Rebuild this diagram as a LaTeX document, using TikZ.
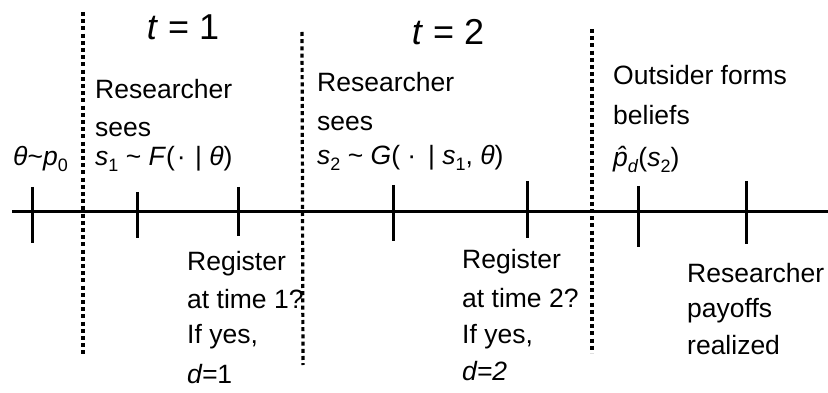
\documentclass[tikz,border=0pt]{standalone}
\usepackage{fontspec}
\setmainfont{Liberation Sans}
\newcommand{\sbs}[1]{\raisebox{-0.2em}{\fontsize{18}{18}\selectfont #1}}
\newcommand{\tld}{\textasciitilde}
\newcommand{\phat}{\makebox[0pt][l]{\hspace{0.14em}\raisebox{0.05em}{\textit{ˆ}}}\textit{p}}
\begin{document}
\begin{tikzpicture}[x=1pt,y=-1pt,
  lbl/.style={anchor=base west,inner sep=0pt,font=\fontsize{26.5}{30}\selectfont},
  big/.style={anchor=base,inner sep=0pt,font=\fontsize{36}{40}\selectfont},
  axis/.style={line width=3pt},
  tick/.style={line width=3pt},
  period/.style={line width=3.2pt,dash pattern=on 4pt off 3.2pt}]
\useasboundingbox (0,0) rectangle (828,393);
% axis
\coordinate (L) at (12,212);
\coordinate (R) at (828,212);
\draw[axis] (L) -- (R);
% ticks
\coordinate (t1a) at (32,187);  \coordinate (t1b) at (32,243);
\coordinate (t2a) at (137,192); \coordinate (t2b) at (137,238);
\coordinate (t3a) at (238,187); \coordinate (t3b) at (238,236);
\coordinate (t4a) at (393,185); \coordinate (t4b) at (393,241);
\coordinate (t5a) at (527,181); \coordinate (t5b) at (527,238);
\coordinate (t6a) at (638,186); \coordinate (t6b) at (638,247);
\coordinate (t7a) at (746,181); \coordinate (t7b) at (746,244);
\foreach \i in {1,...,7} \draw[tick] (t\i a) -- (t\i b);
% period separators
\coordinate (d1a) at (83,12);  \coordinate (d1b) at (83,356);
\coordinate (d2a) at (302,32); \coordinate (d2b) at (303,365);
\coordinate (d3a) at (592,29); \coordinate (d3b) at (592,353);
\foreach \i in {1,2,3} \draw[period] (d\i a) -- (d\i b);
% period titles
\node[big] (T1) at (183,40) {\textit{t} = 1};
\node[big] (T2) at (448,45) {\textit{t} = 2};
% prior
\node[lbl] (prior) at (13,166) {\textit{θ}\tld\textit{p}\sbs{0}};
% block 1
\node[lbl] (r1) at (95,99) {Researcher};
\node[lbl] (s1l) at (95,137) {sees};
\node[lbl] (m1) at (95,166) {\textit{s}\sbs{1} \tld{} \textit{F}(\hspace{2pt}·\hspace{2pt} | \textit{θ})};
% block 2
\node[lbl] (r2) at (317,92) {Researcher};
\node[lbl] (s2l) at (317,131) {sees};
\node[lbl] (m2) at (317,165) {\textit{s}\sbs{2} \tld{} \textit{G}( · \,| \textit{s}\sbs{1}, \textit{θ})};
% block 3
\node[lbl] (o1) at (613,85) {Outsider forms};
\node[lbl] (o2) at (613,125) {beliefs};
\node[lbl] (o3) at (613,167) {\phat\sbs{\textit{d}}(\textit{s}\sbs{2})};
% below 1
\node[lbl] (g1) at (187,270) {Register};
\node[lbl] (g2) at (187,308) {at time 1?};
\node[lbl] (g3) at (187,343) {If yes,};
\node[lbl] (g4) at (187,383) {\textit{d=}1};
% below 2
\node[lbl] (h1) at (462,269) {Register};
\node[lbl] (h2) at (462,307) {at time 2?};
\node[lbl] (h3) at (462,343) {If yes,};
\node[lbl] (h4) at (462,380) {\textit{d=2}};
% below 3
\node[lbl] (p1) at (687,282) {Researcher};
\node[lbl] (p2) at (687,317) {payoffs};
\node[lbl] (p3) at (687,354) {realized};
\end{tikzpicture}
\end{document}
